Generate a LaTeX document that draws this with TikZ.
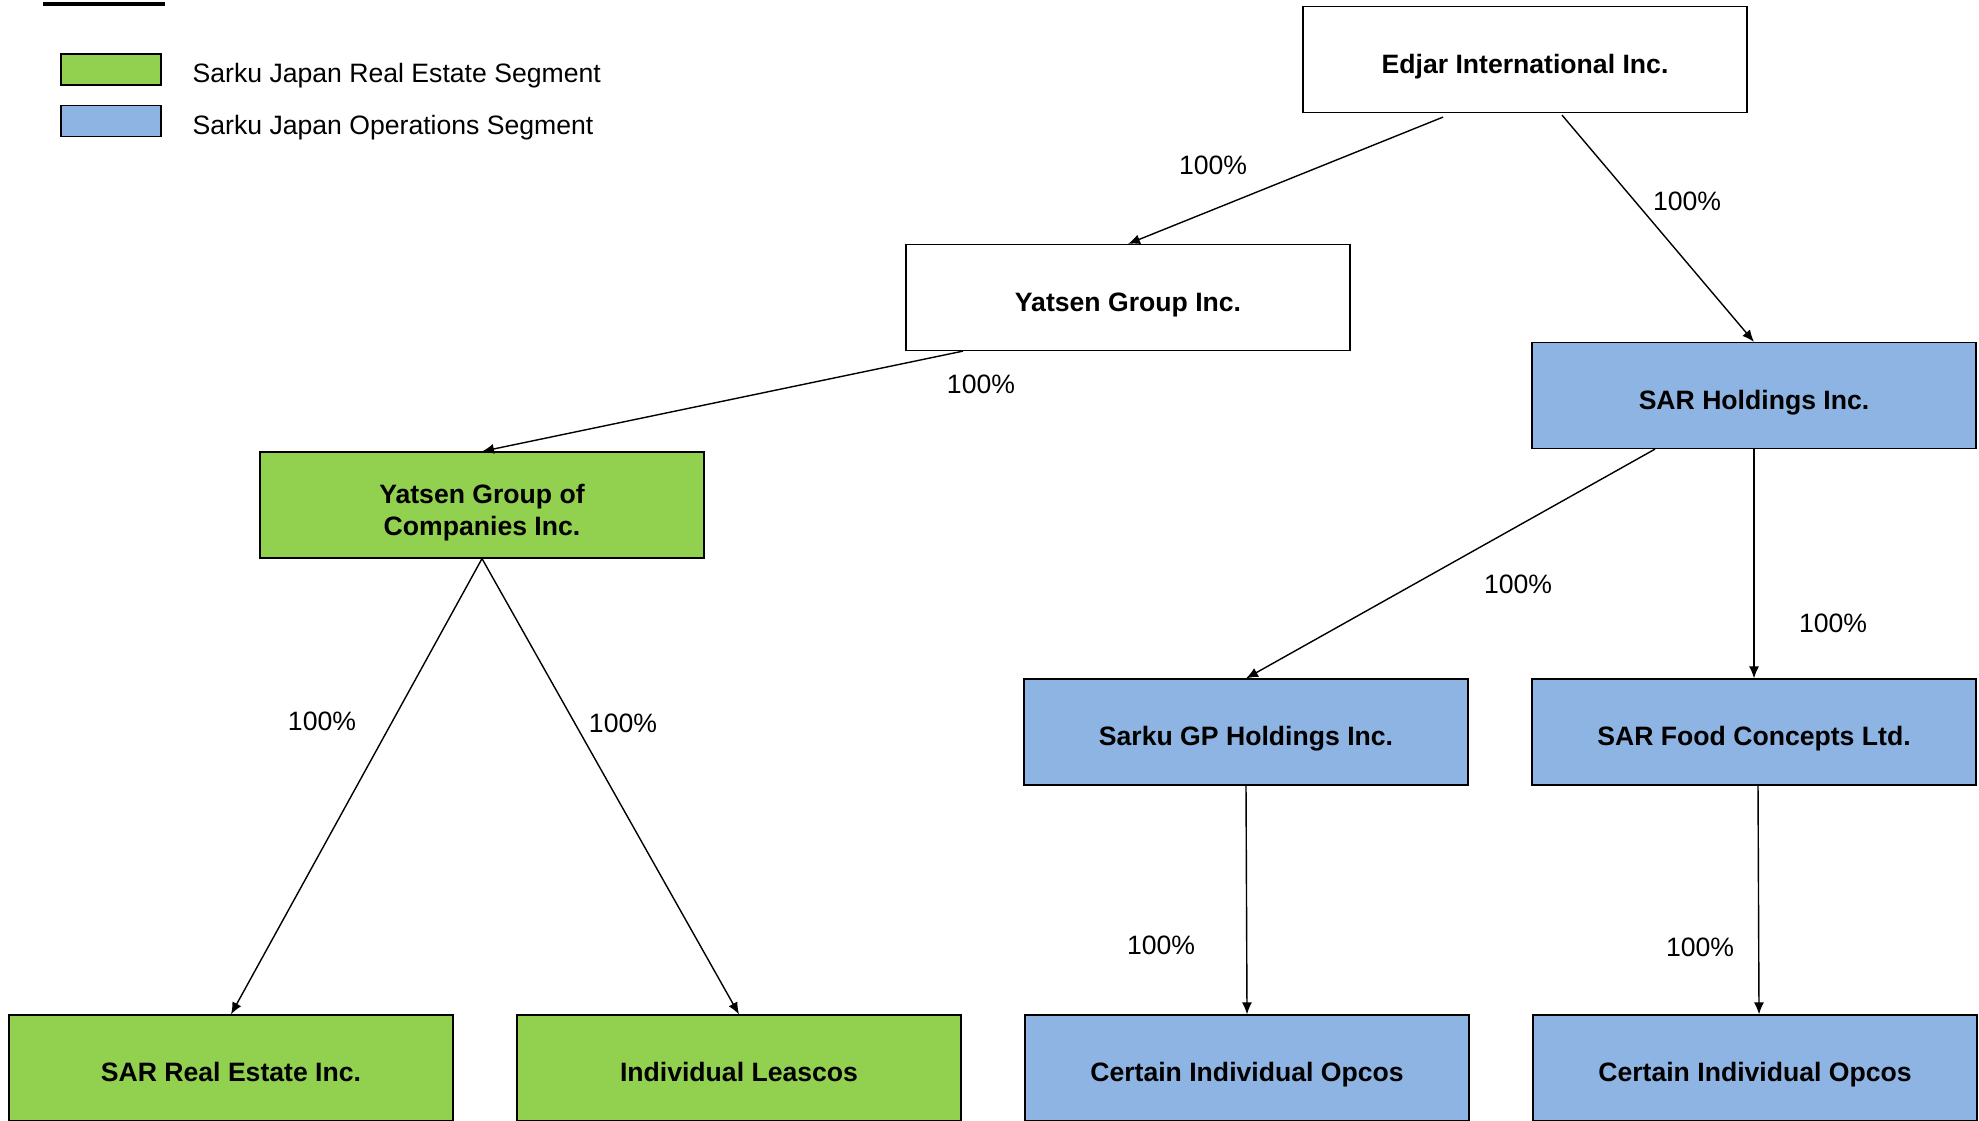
\documentclass[tikz,border=0pt]{standalone}
\usepackage{fontspec}
\setmainfont{Liberation Sans}
\usepackage{tikz}
\usetikzlibrary{arrows,arrows.meta}

\definecolor{realestate}{HTML}{92D050}
\definecolor{operations}{HTML}{8DB4E2}

\tikzset{
  entity/.style={draw,line width=0.6pt,minimum width=222pt,minimum height=53pt,
    inner sep=0pt,align=center,text height=13.6pt,text depth=0pt,
    font=\fontsize{13.3}{15.75}\selectfont\bfseries},
  re/.style={entity,fill=realestate},
  ops/.style={entity,fill=operations},
  pct/.style={font=\fontsize{13.3}{15}\selectfont},
  key/.style={draw,line width=0.6pt,minimum width=50pt,minimum height=15.5pt,inner sep=0pt},
  keytext/.style={anchor=west,inner sep=0pt,font=\fontsize{13.3}{15}\selectfont}
}

\begin{document}
\begin{tikzpicture}[x=0.5pt,y=-0.5pt,->,>={Latex[length=6pt,width=5pt]},line width=0.7pt,node distance=254pt]
    \clip (0,0) rectangle (1979,1120);
    % legend
    \draw[-,line width=2pt] (43,4) -- (165,4);
    \node (keyre) [key,fill=realestate] at (111,69.5) {};
    \node (keyops) [key,fill=operations] at (111,121) {};
    \node (keyretext) [keytext] at (192,75.5) {Sarku Japan Real Estate Segment};
    \node (keyopstext) [keytext] at (192,127.5) {Sarku Japan Operations Segment};
    % entities
    \node (edjar) [entity] at (1525,59.5) {Edjar International Inc.};
    \node (yatsen) [entity] at (1128,297.5) {Yatsen Group Inc.};
    \node (sarh) [ops] at (1754,395.5) {SAR Holdings Inc.};
    \node (ygoc) [re,text height=30pt] at (482,505) {Yatsen Group of\\Companies Inc.};
    \node (sarkugp) [ops] at (1246,732) {Sarku GP Holdings Inc.};
    \node (sarfood) [ops] at (1754,732) {SAR Food Concepts Ltd.};
    \node (sarre) [re] at (231,1068) {SAR Real Estate Inc.};
    \node (leascos) [re,right of=sarre] {Individual Leascos};
    \node (opcosa) [ops,right of=leascos] {Certain Individual Opcos};
    \node (opcosb) [ops,right of=opcosa] {Certain Individual Opcos};
    % ownership
    \draw ([xshift=-41pt,yshift=-2pt]edjar.south) -- (yatsen.north);
    \draw ([xshift=18.5pt,yshift=-1pt]edjar.south) -- (sarh.north);
    \draw ([xshift=-82.5pt]yatsen.south) -- (ygoc.north);
    \draw (ygoc.south) -- (sarre.north);
    \draw (ygoc.south) -- (leascos.north);
    \draw ([xshift=-49.5pt]sarh.south) -- (sarkugp.north);
    \draw (sarh.south) -- (sarfood.north);
    \draw (sarkugp.south) -- (opcosa.north);
    \draw ([xshift=2pt]sarfood.south) -- ([xshift=2pt]opcosb.north);
    % percentages
    \node (p1) [pct] at (1213,165) {100\%};
    \node (p2) [pct] at (1687,201) {100\%};
    \node (p3) [pct] at (981,384) {100\%};
    \node (p4) [pct] at (322,721) {100\%};
    \node (p5) [pct] at (623,723) {100\%};
    \node (p6) [pct] at (1518,584) {100\%};
    \node (p7) [pct] at (1833,623) {100\%};
    \node (p8) [pct] at (1161,945) {100\%};
    \node (p9) [pct] at (1700,947) {100\%};
\end{tikzpicture}
\end{document}
